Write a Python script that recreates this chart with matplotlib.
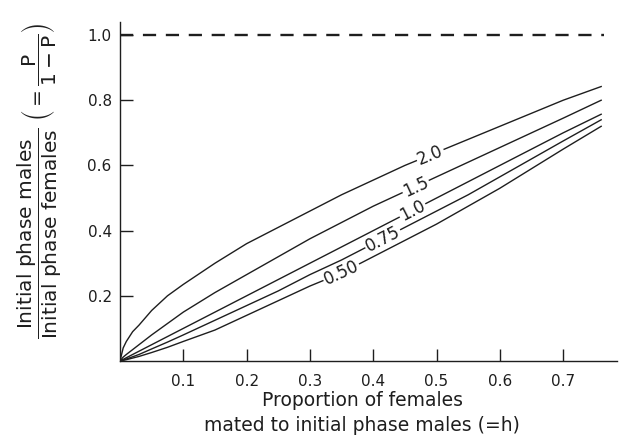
import numpy as np
import matplotlib
matplotlib.use('Agg')
import matplotlib.pyplot as plt

plt.rcParams['font.family'] = 'DejaVu Sans'
plt.rcParams['mathtext.fontset'] = 'dejavusans'
plt.rcParams['lines.scale_dashes'] = False

# values
h = [0, 0.005, 0.01, 0.02, 0.03, 0.05, 0.075, 0.1, 0.15, 0.2, 0.25, 0.3, 0.35,
     0.4, 0.45, 0.5, 0.55, 0.6, 0.65, 0.7, 0.76]
r20 = [0, 0.04, 0.06, 0.09, 0.11, 0.155, 0.20, 0.235, 0.30, 0.36, 0.41, 0.46, 0.51,
       0.555, 0.60, 0.64, 0.68, 0.72, 0.76, 0.80, 0.842]
r15 = [0, 0.012, 0.02, 0.035, 0.05, 0.08, 0.115, 0.15, 0.21, 0.265, 0.32, 0.375, 0.425,
       0.475, 0.52, 0.565, 0.61, 0.655, 0.70, 0.745, 0.80]
r10 = [0, 0.005, 0.01, 0.02, 0.03, 0.05, 0.075, 0.10, 0.15, 0.20, 0.25, 0.30, 0.35,
       0.40, 0.45, 0.50, 0.55, 0.60, 0.65, 0.70, 0.757]
r075 = [0, 0.003, 0.006, 0.013, 0.02, 0.037, 0.058, 0.08, 0.125, 0.17, 0.215, 0.265, 0.31,
        0.36, 0.41, 0.46, 0.51, 0.565, 0.62, 0.675, 0.74]
r050 = [0, 0.002, 0.004, 0.009, 0.014, 0.026, 0.042, 0.06, 0.095, 0.14, 0.185, 0.23, 0.27,
        0.32, 0.37, 0.42, 0.475, 0.53, 0.59, 0.65, 0.72]
curves = [r20, r15, r10, r075, r050]
curve_labels = ['2.0', '1.5', '1.0', '0.75', '0.50']
label_at = [0.49, 0.467, 0.462, 0.415, 0.35]

xticks = [0.1, 0.2, 0.3, 0.4, 0.5, 0.6, 0.7]
yticks = [0.2, 0.4, 0.6, 0.8, 1.0]

ink = '#1e1e1e'

fig = plt.figure(figsize=(6.27, 4.48), dpi=100)
ax = fig.add_axes([120/627, 87/448, 497/627, 339/448])
ax.set_xlim(0, 0.785)
ax.set_ylim(0, 1.04)

for ys in curves:
    ax.plot(h, ys, color=ink, lw=1.0)

ax.plot([0, 0.764], [1.0, 1.0], color=ink, lw=1.7, dashes=(9.5, 7))

# inline curve labels, rotated along the line
for ys, txt, hx in zip(curves, curve_labels, label_at):
    yv = np.interp(hx, h, ys)
    p1 = ax.transData.transform((hx - 0.03, np.interp(hx - 0.03, h, ys)))
    p2 = ax.transData.transform((hx + 0.03, np.interp(hx + 0.03, h, ys)))
    ang = np.degrees(np.arctan2(p2[1] - p1[1], p2[0] - p1[0]))
    ax.text(hx, yv, txt, rotation=ang, rotation_mode='anchor', ha='center', va='center',
            fontsize=12, color=ink,
            bbox=dict(facecolor='white', edgecolor='none', pad=0.8))

for s in ['top', 'right']:
    ax.spines[s].set_visible(False)
for s in ['left', 'bottom']:
    ax.spines[s].set_linewidth(1.0)
    ax.spines[s].set_color(ink)

ax.set_xticks(xticks)
ax.set_xticklabels(['%.1f' % t for t in xticks])
ax.set_yticks(yticks)
ax.set_yticklabels(['%.1f' % t for t in yticks])
ax.tick_params(direction='in', length=9, width=1.0, color=ink, labelsize=11, labelcolor=ink)
ax.tick_params(axis='x', pad=9)
ax.tick_params(axis='y', pad=6)

fig.text(362/627, 1 - 400/448, 'Proportion of females', ha='center', va='center', fontsize=13.5, color=ink)
fig.text(362/627, 1 - 425/448, 'mated to initial phase males (=h)', ha='center', va='center', fontsize=13.5, color=ink)

ylab = (r'$\dfrac{\mathrm{Initial\ phase\ males}}{\mathrm{Initial\ phase\ females}}'
        r'\ \left(=\dfrac{\mathrm{P}}{\mathrm{1-P}}\right)$')
fig.text(40/627, 1 - 181/448, ylab, rotation=90, ha='center', va='center', fontsize=14.5, color=ink)

fig.savefig('out.png', dpi=100)
